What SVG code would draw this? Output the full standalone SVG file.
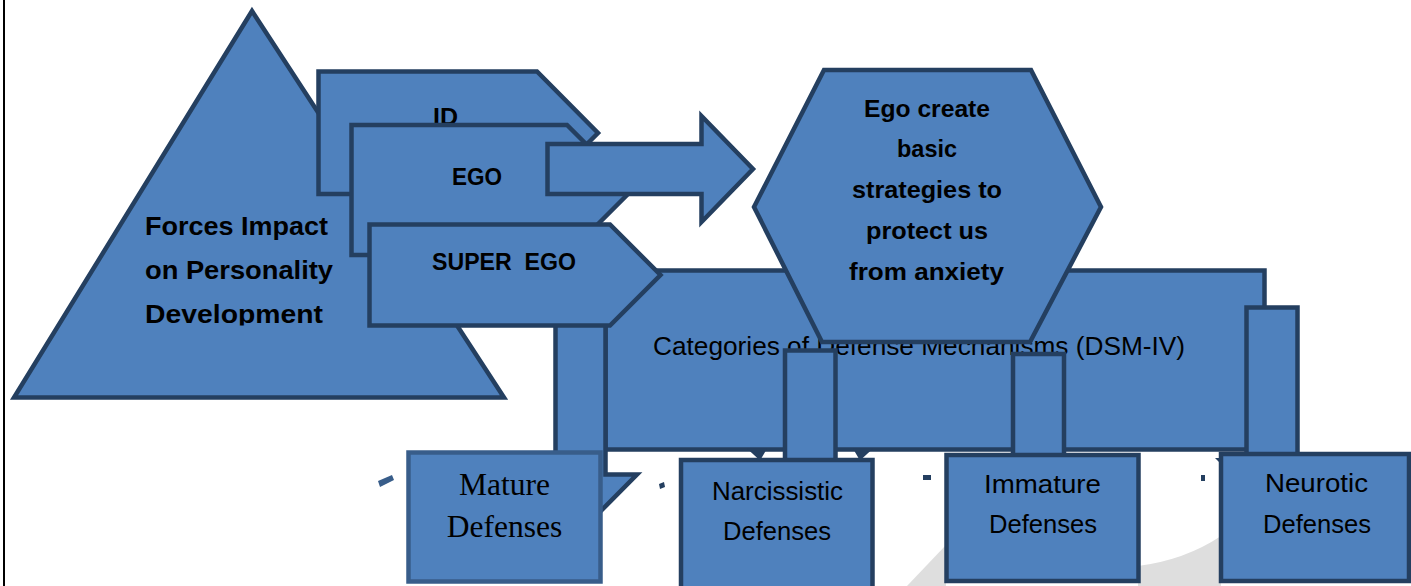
<svg xmlns="http://www.w3.org/2000/svg" width="1411" height="586" viewBox="0 0 1411 586">
<defs>
<style>
.sh{fill:#4f81bd;stroke:#243f60;stroke-width:4.5;stroke-linejoin:miter}
.shl{fill:#4f81bd;stroke:#385d8a;stroke-width:4.5}
.b{font-family:"Liberation Sans",Arial,sans-serif;font-weight:bold;fill:#000}
.r{font-family:"Liberation Sans",Arial,sans-serif;fill:#000}
.s{font-family:"Liberation Serif","Times New Roman",serif;fill:#000}
.g{fill:#dedede}
.art{fill:#243f60}
</style>
<clipPath id="triClip"><rect x="0" y="0" width="520" height="325.5"/></clipPath>
</defs>
<rect x="0" y="0" width="1411" height="586" fill="#fff"/>
<line x1="4" y1="0" x2="4" y2="586" stroke="#000" stroke-width="2"/>
<g id="background">
<polygon class="g" points="907,586 946,545 946,586"/>
<path class="g" d="M1138,566 Q1185,560 1221,536 L1221,586 L1138,586 Z"/>
<polygon fill="#385d8a" points="378,481 392,475 394,480 380,487"/>
<polygon class="art" points="659,484 664,482 665,487 660,489"/>
<rect class="art" x="923" y="475" width="8" height="5"/>
<rect class="art" x="1201" y="475" width="4" height="6"/>
<polygon class="art" points="1215,458 1221,458 1221,464"/>
</g>
<g id="forces">
<polygon class="sh" points="252,11 504,397.5 14,397.5"/>
<g clip-path="url(#triClip)">
<text class="b" font-size="25" x="145" y="235" textLength="183" lengthAdjust="spacingAndGlyphs">Forces Impact</text>
<text class="b" font-size="25" x="145" y="279" textLength="188" lengthAdjust="spacingAndGlyphs">on Personality</text>
<text class="b" font-size="25" x="145" y="323" textLength="178" lengthAdjust="spacingAndGlyphs">Development</text>
</g>
</g>
<g id="id">
<polygon class="sh" points="318.5,71.5 537,71.5 598,133 537,194 318.5,194"/>
<text class="b" font-size="24" x="433" y="125" textLength="25" lengthAdjust="spacingAndGlyphs">ID</text>
</g>
<g id="ego">
<polygon class="sh" points="351.5,125 567,125 632,190 567,255 351.5,255"/>
<text class="b" font-size="24" x="452" y="185" textLength="50" lengthAdjust="spacingAndGlyphs">EGO</text>
</g>
<g id="arrow">
<polygon class="sh" points="547.5,144 701.5,144 701.5,116 753,169 701.5,222 701.5,194 547.5,194"/>
</g>
<g id="categories">
<rect class="sh" x="605.5" y="270.5" width="659" height="179"/>
<text class="r" font-size="26" x="653" y="355" textLength="532" lengthAdjust="spacingAndGlyphs">Categories of Defense Mechanisms (DSM-IV)</text>
</g>
<g id="connectors">
<polygon class="sh" points="555.5,300 605.5,300 605.5,474.5 637,474.5 580,532 523,474.5 555.5,474.5"/>
<rect class="sh" x="785" y="350.5" width="50.5" height="110"/>
<polygon class="sh" points="753,451 763,451 759.5,457"/>
<polygon class="sh" points="857,451 867,451 860.5,457"/>
<rect class="sh" x="1013" y="354" width="51" height="102"/>
<rect class="sh" x="1246.5" y="307.5" width="51" height="147"/>
</g>
<g id="superego">
<polygon class="sh" points="369.5,224.5 610,224.5 660.5,275 610,325.5 369.5,325.5"/>
<text class="b" font-size="24" x="432" y="270" textLength="144" lengthAdjust="spacingAndGlyphs" style="white-space:pre" xml:space="preserve">SUPER  EGO</text>
</g>
<g id="hexagon">
<polygon class="sh" points="824,70 1031,70 1101,207 1030,342 822,342 754,207"/>
<text class="b" font-size="24" x="864" y="117" textLength="126" lengthAdjust="spacingAndGlyphs">Ego create</text>
<text class="b" font-size="24" x="897" y="157" textLength="60" lengthAdjust="spacingAndGlyphs">basic</text>
<text class="b" font-size="24" x="852" y="198" textLength="150" lengthAdjust="spacingAndGlyphs">strategies to</text>
<text class="b" font-size="24" x="866" y="239" textLength="122" lengthAdjust="spacingAndGlyphs">protect us</text>
<text class="b" font-size="24" x="849" y="280" textLength="155" lengthAdjust="spacingAndGlyphs">from anxiety</text>
</g>
<g id="mature">
<rect class="shl" x="408.5" y="452.5" width="192" height="129"/>
<text class="s" font-size="31.5" x="504.5" y="495" text-anchor="middle">Mature</text>
<text class="s" font-size="31.5" x="504.5" y="537" text-anchor="middle">Defenses</text>
</g>
<g id="narcissistic">
<rect class="sh" x="681" y="460" width="191.5" height="135"/>
<text class="r" font-size="25.5" x="712" y="500" textLength="131" lengthAdjust="spacingAndGlyphs">Narcissistic</text>
<text class="r" font-size="25.5" x="723" y="540" textLength="108" lengthAdjust="spacingAndGlyphs">Defenses</text>
</g>
<g id="immature">
<rect class="sh" x="946.5" y="455" width="192" height="126"/>
<text class="r" font-size="25.5" x="984" y="493" textLength="117" lengthAdjust="spacingAndGlyphs">Immature</text>
<text class="r" font-size="25.5" x="989" y="533" textLength="108" lengthAdjust="spacingAndGlyphs">Defenses</text>
</g>
<g id="neurotic">
<rect class="sh" x="1221" y="454" width="188" height="127"/>
<text class="r" font-size="25.5" x="1265" y="492" textLength="103" lengthAdjust="spacingAndGlyphs">Neurotic</text>
<text class="r" font-size="25.5" x="1263" y="533" textLength="108" lengthAdjust="spacingAndGlyphs">Defenses</text>
</g>
</svg>
